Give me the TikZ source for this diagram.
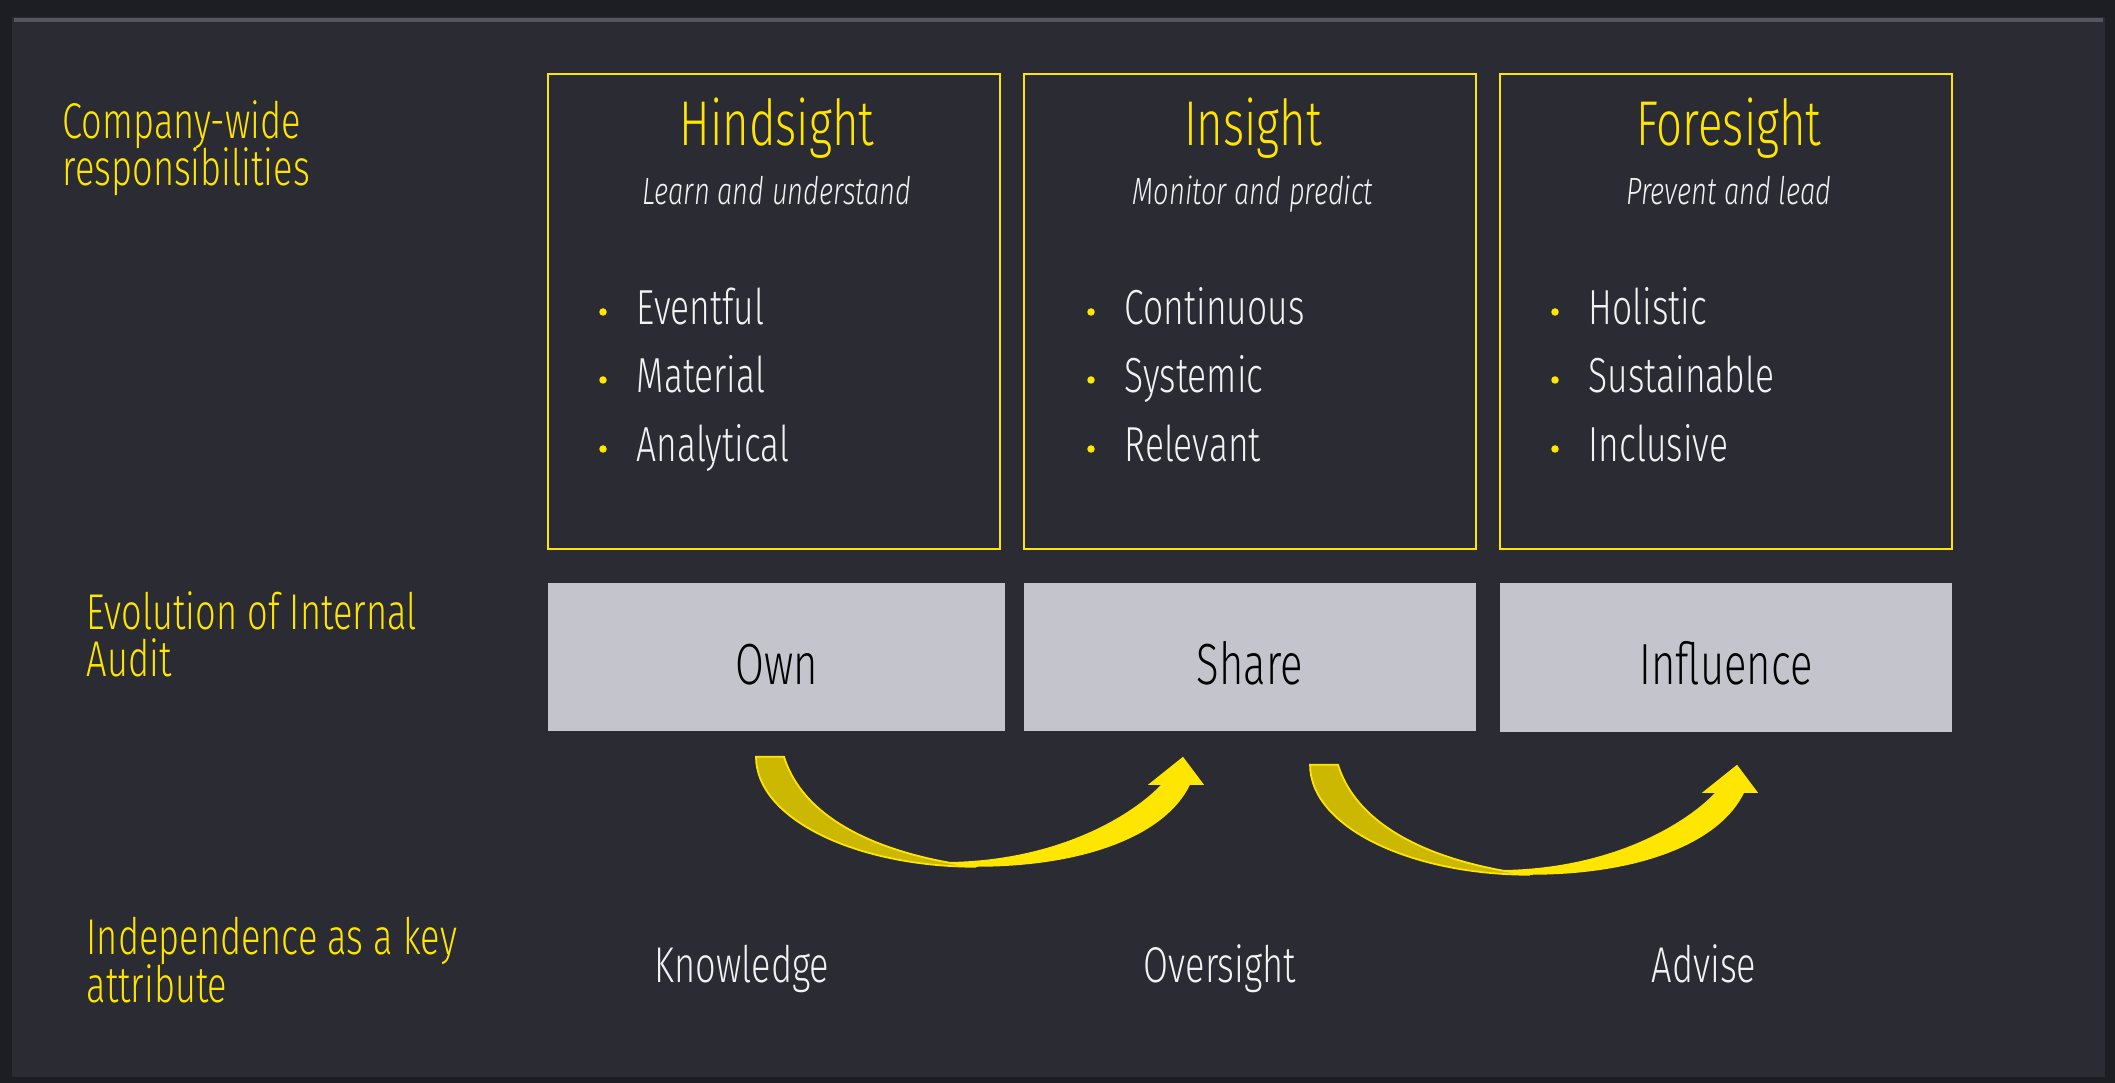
\documentclass[tikz,border=0pt]{standalone}
\usepackage{fontspec}
\setmainfont{Fira Sans Light}[ItalicFont={Fira Sans Light Italic}, FakeStretch=0.72]
\usetikzlibrary{positioning}

\definecolor{eyyellow}{HTML}{FFE600}
\definecolor{eydark}{HTML}{2A2B33}
\definecolor{eygrey}{HTML}{C4C4CD}
\definecolor{tailyellow}{HTML}{CCB800}
\definecolor{framedark}{HTML}{1D1E23}
\definecolor{bevel}{HTML}{55565D}
\definecolor{softwhite}{HTML}{F2F2F2}

\tikzset{
  rowlabel/.style={anchor=base west, align=left, inner sep=0pt, text=eyyellow, font={\fontsize{14.3}{13.4}\selectfont\lineskiplimit=-20pt\relax}},
  sightbox/.style={draw=eyyellow, line width=0.6pt, minimum width=4.52cm, minimum height=4.75cm, inner sep=0pt},
  sighttitle/.style={anchor=base, inner sep=0pt, text=eyyellow, font=\fontsize{18}{20}\selectfont},
  sightsub/.style={anchor=base, inner sep=0pt, text=softwhite, font=\fontsize{10.8}{14}\selectfont\itshape},
  dot/.style={circle, fill=eyyellow, inner sep=0pt, minimum size=0.075cm},
  item/.style={anchor=base west, inner sep=0pt, text=softwhite, font=\fontsize{14}{17}\selectfont},
  stagebox/.style={fill=eygrey, minimum width=4.52cm, minimum height=1.48cm, inner sep=0pt, text=black, text height=15.4pt, text depth=0pt, font=\fontsize{16.5}{20}\selectfont},
  attr/.style={anchor=base, inner sep=0pt, text=softwhite, font=\fontsize{14.3}{16}\selectfont},
  pics/evoarrow/.style={code={
    \fill[eyyellow] (170,105) -- (220,110) .. controls (330,110) and (410,78) .. (434,28) -- (448,28) -- (427,0) -- (392,28) -- (405,28) .. controls (380,55) and (300,110) .. (170,105) -- cycle;
    \filldraw[fill=tailyellow, draw=eyyellow, line width=0.5pt] (0,0) .. controls (0,62) and (100,110) .. (220,110) .. controls (140,100) and (50,70) .. (28,0) -- cycle;
  }}
}

\begin{document}
\begin{tikzpicture}[x=0.01cm, y=-0.01cm]
\useasboundingbox (0,0) rectangle (2115,1083);
% frame
\fill [framedark] (0,0) rectangle (2115,1083);
\fill [eydark] (12,17) rectangle (2105,1077);
\draw [bevel, line width=1.2pt] (14,20) -- (2103,20);

% row labels
\node [rowlabel] (resp) at (62,186) {Company-wide\\responsibilities};
\node [rowlabel] (evol) at (86,677) {Evolution of Internal\\Audit};
\node [rowlabel] (indep) at (86,1002) {Independence as a key\\attribute};

% hindsight / insight / foresight
\node [sightbox] (hind) at (774,311.5) {};
\node [sightbox] (ins) at (1250,311.5) {};
\node [sightbox] (fore) at (1726,311.5) {};

\node [sighttitle] (hindt) at (777,146) {Hindsight};
\node [sightsub] (hinds) at (777,205) {Learn and understand};
\node [dot] (hdot1) at (603,312) {};
\node [dot] (hdot2) at (603,380) {};
\node [dot] (hdot3) at (603,449) {};
\node [item] (hitem1) at (636,325) {Eventful};
\node [item] (hitem2) at (636,393) {Material};
\node [item] (hitem3) at (636,462) {Analytical};

\node [sighttitle] (inst) at (1253,146) {Insight};
\node [sightsub] (inss) at (1253,205) {Monitor and predict};
\node [dot] (idot1) at (1091,312) {};
\node [dot] (idot2) at (1091,380) {};
\node [dot] (idot3) at (1091,449) {};
\node [item] (iitem1) at (1124,325) {Continuous};
\node [item] (iitem2) at (1124,393) {Systemic};
\node [item] (iitem3) at (1124,462) {Relevant};

\node [sighttitle] (foret) at (1729,146) {Foresight};
\node [sightsub] (fores) at (1729,205) {Prevent and lead};
\node [dot] (fdot1) at (1555,312) {};
\node [dot] (fdot2) at (1555,380) {};
\node [dot] (fdot3) at (1555,449) {};
\node [item] (fitem1) at (1588,325) {Holistic};
\node [item] (fitem2) at (1588,393) {Sustainable};
\node [item] (fitem3) at (1588,462) {Inclusive};

% evolution stages
\node [stagebox, minimum width=4.57cm] (own) at (776.5,657) {Own};
\node [stagebox] (share) at (1250,657) {Share};
\node [stagebox] (infl) at (1726,657.5) {Influence};

\pic at ([xshift=-0.205cm, yshift=-0.25cm]own.south) {evoarrow};
\pic at ([xshift=0.6cm, yshift=-0.33cm]share.south) {evoarrow};

% independence
\node [attr] (know) at (742,983) {Knowledge};
\node [attr] (over) at (1220,983) {Oversight};
\node [attr] (adv) at (1704,983) {Advise};
\end{tikzpicture}
\end{document}
